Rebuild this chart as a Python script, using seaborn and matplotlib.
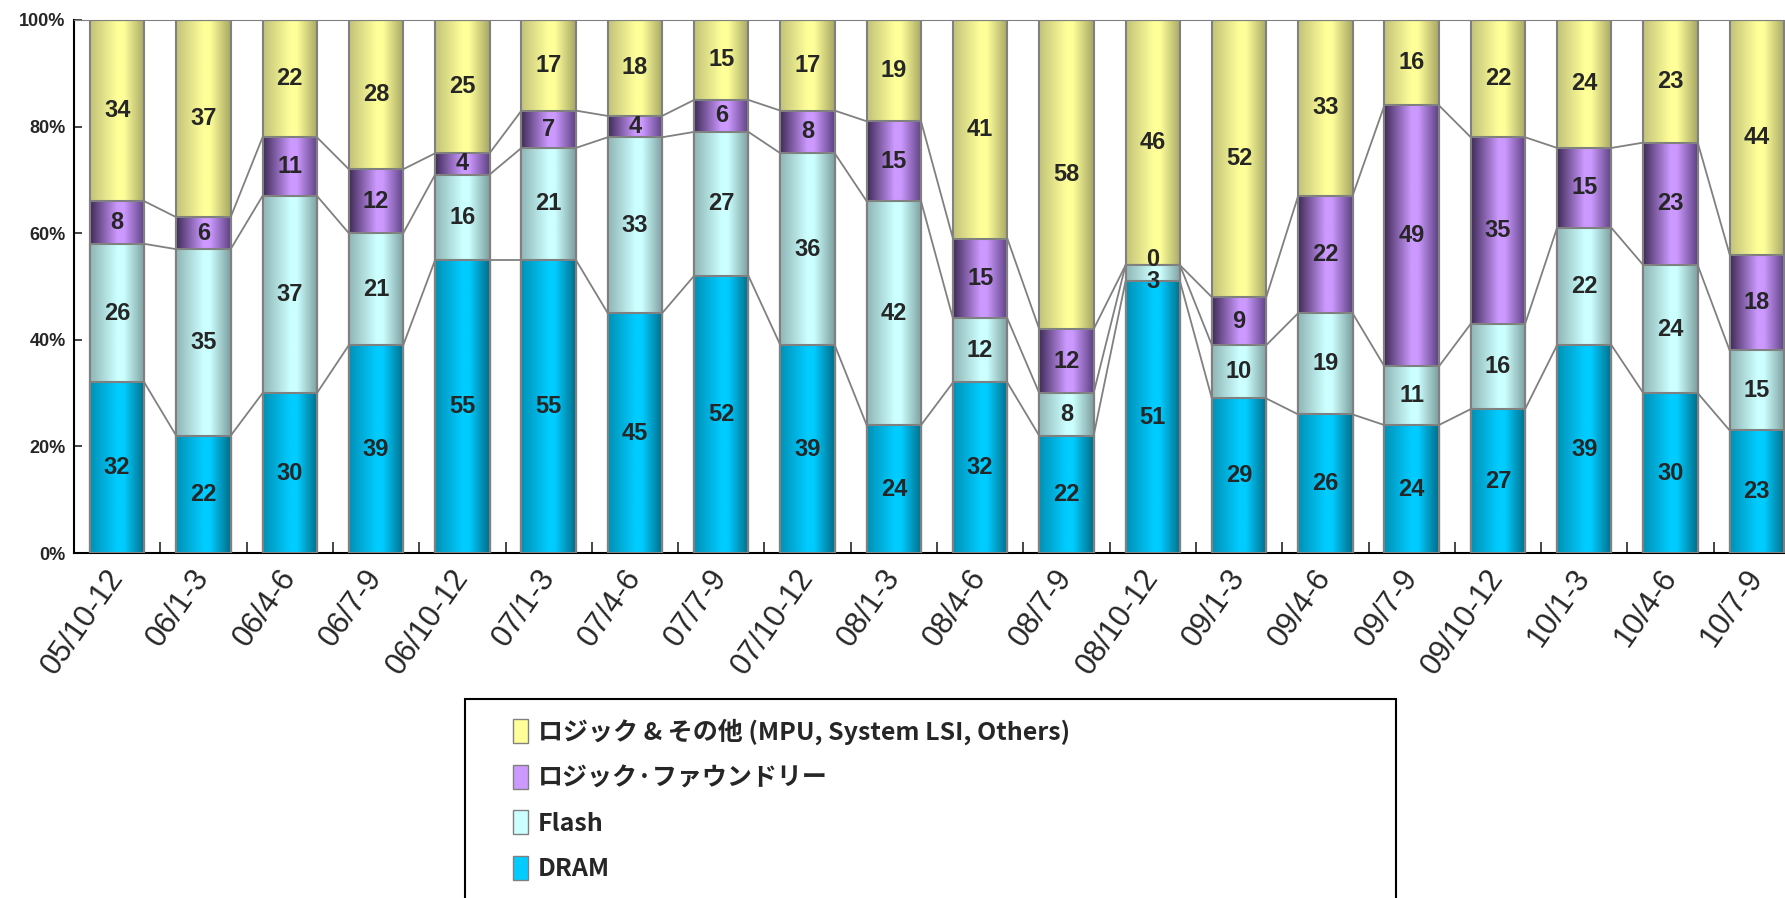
import numpy as np
import seaborn as sns
import matplotlib.pyplot as plt
from matplotlib.colors import LinearSegmentedColormap
from matplotlib.patches import Patch, Rectangle

# quarters
quarters = ['05/10-12', '06/1-3', '06/4-6', '06/7-9', '06/10-12', '07/1-3', '07/4-6',
            '07/7-9', '07/10-12', '08/1-3', '08/4-6', '08/7-9', '08/10-12', '09/1-3',
            '09/4-6', '09/7-9', '09/10-12', '10/1-3', '10/4-6', '10/7-9']

# share (%) per segment
dram = [32, 22, 30, 39, 55, 55, 45, 52, 39, 24, 32, 22, 51, 29, 26, 24, 27, 39, 30, 23]
flash = [26, 35, 37, 21, 16, 21, 33, 27, 36, 42, 12, 8, 3, 10, 19, 11, 16, 22, 24, 15]
foundry = [8, 6, 11, 12, 4, 7, 4, 6, 8, 15, 15, 12, 0, 9, 22, 49, 35, 15, 23, 18]
logic = [34, 37, 22, 28, 25, 17, 18, 15, 17, 19, 41, 58, 46, 52, 33, 16, 22, 24, 23, 44]

labels = ['DRAM', 'Flash', 'ロジック·ファウンドリー', 'ロジック & その他 (MPU, System LSI, Others)']
# (dark left, light, dark right)
shades = [('#0090B5', '#00CCFF', '#006C88'),
          ('#90B5B5', '#CCFFFF', '#7C9E9E'),
          ('#3F2B57', '#CC99FF', '#5C4080'),
          ('#C2C27A', '#FFFF99', '#A6A664')]

sns.set_style('ticks')
plt.rcParams['font.family'] = ['Liberation Sans', 'Noto Sans CJK JP', 'DejaVu Sans']

fig = plt.figure(figsize=(17.85, 8.98), dpi=100)
ax = fig.add_axes([74 / 1785, 345 / 898, 1726 / 1785, 533 / 898])

series = [dram, flash, foundry, logic]
tops = np.cumsum(series, axis=0)
bottoms = np.vstack([np.zeros(len(dram)), tops[:3]])
bw = 0.63
grad = np.linspace(0, 1, 256).reshape(1, -1)

# draw from the top layer down, each cumulative bar over the previous one
for k in range(3, -1, -1):
    n0 = len(ax.patches)
    sns.barplot(x=quarters, y=tops[k], color=shades[k][1], width=bw, saturation=1,
                edgecolor='#808080', linewidth=1.5, ax=ax)
    cmap = LinearSegmentedColormap.from_list(
        's%d' % k, [(0, shades[k][0]), (0.5, shades[k][1]), (0.62, shades[k][1]), (1, shades[k][2])])
    z = 2 + (3 - k)
    for p in ax.patches[n0:]:
        x0, y0, w, h = p.get_x(), p.get_y(), p.get_width(), p.get_height()
        ax.imshow(grad, cmap=cmap, extent=[x0, x0 + w, y0, y0 + h], aspect='auto',
                  interpolation='bilinear', zorder=z + 0.1)
        p.set_facecolor('none')
        p.set_zorder(z + 0.2)

# series lines between bars
x = np.arange(len(quarters))
for k in range(3):
    for i in range(len(quarters) - 1):
        ax.plot([i + bw / 2, i + 1 - bw / 2], [tops[k][i], tops[k][i + 1]],
                color='#808080', lw=1.3, zorder=1.5)

# value labels (tiny segments nudged apart a little)
for k in range(4):
    for i in range(len(quarters)):
        v = series[k][i]
        yy = bottoms[k][i] + v / 2
        if v == 0:
            yy += 1.0
        elif v <= 3:
            yy -= 1.5
        ax.text(i, yy, str(v), ha='center', va='center',
                fontsize=17, fontweight='bold', zorder=20)

ax.set_xlim(-0.5, len(quarters) - 0.5)
ax.set_ylim(0, 100)
ax.set_yticks(range(0, 101, 20))
ax.set_yticklabels(['%d%%' % v for v in range(0, 101, 20)], fontsize=13, fontweight='bold')
ax.set_xticks(x)
ax.set_xticklabels(quarters, rotation=55, ha='right', va='center', rotation_mode='anchor', fontsize=22)
ax.set_xticks(x[:-1] + 0.5, minor=True)
ax.tick_params(axis='x', which='major', length=0, pad=14)
ax.tick_params(axis='x', which='minor', direction='in', length=8, width=1.2)
ax.tick_params(axis='y', direction='in', length=6, width=1.2, pad=6)
for s in ['left', 'bottom']:
    ax.spines[s].set_color('black')
    ax.spines[s].set_linewidth(1.5)
ax.spines['top'].set_visible(True)
ax.spines['top'].set_color('#808080')
ax.spines['right'].set_visible(False)

# legend box
fig.patches.append(Rectangle((465 / 1785, -0.02), (1396 - 465) / 1785, 199 / 898 + 0.02,
                             transform=fig.transFigure, fill=False, ec='black', lw=1.5))
handles = [Patch(facecolor=shades[k][1], edgecolor='#808080') for k in range(3, -1, -1)]
fig.legend(handles, labels[::-1], loc='upper left', bbox_to_anchor=(500 / 1785, 1 - 706 / 898),
           frameon=False, borderpad=0, handlelength=0.6, handleheight=1.1, handletextpad=0.4,
           labelspacing=0.8, prop={'weight': 'bold', 'size': 18,
                                   'family': ['Noto Sans CJK JP', 'DejaVu Sans']})

fig.savefig('out.png', dpi=100)
